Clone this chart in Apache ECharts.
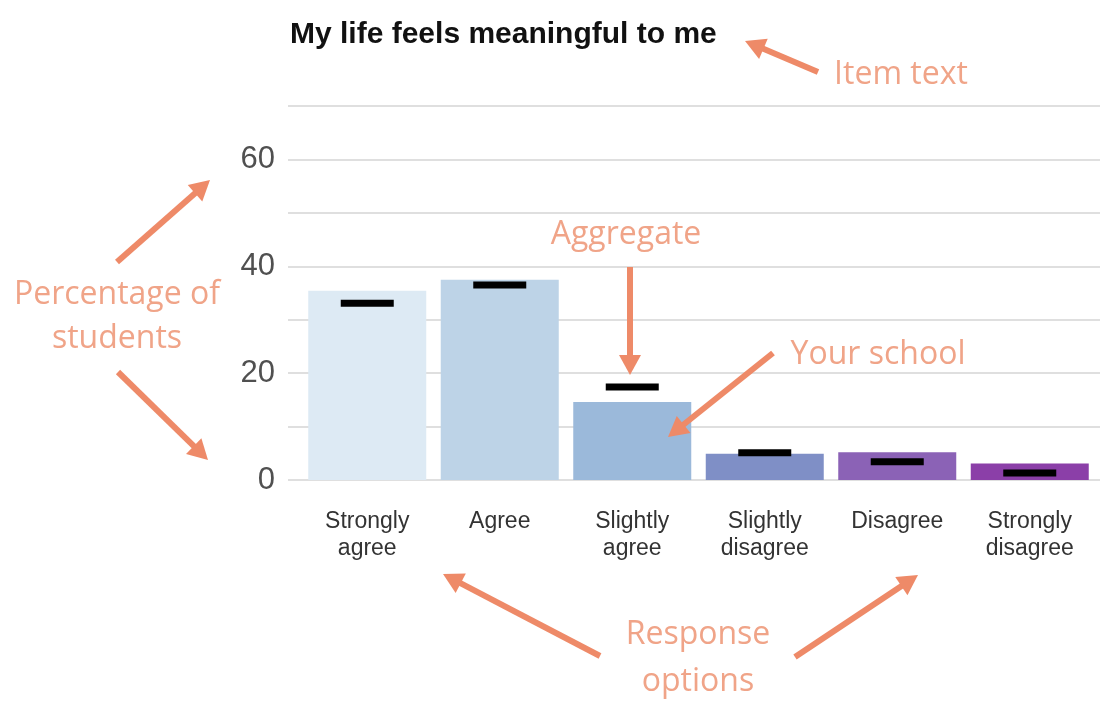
<!DOCTYPE html>
<html>
<head>
<meta charset="utf-8">
<script src="https://cdn.jsdelivr.net/npm/echarts@6/dist/echarts.min.js"></script>
<style>
html,body{margin:0;padding:0;background:#fff;}
#chart{width:1100px;height:701px;}
</style>
</head>
<body>
<div id="chart"></div>
<script>
// ---- data ----
var titleText = 'My life feels meaningful to me';
var categories = ['Strongly\nagree', 'Agree', 'Slightly\nagree', 'Slightly\ndisagree', 'Disagree', 'Strongly\ndisagree'];
var schoolValues = [35.4, 37.5, 14.6, 4.9, 5.2, 3.1];
var aggregateValues = [33.1, 36.5, 17.4, 5.1, 3.4, 1.3];
var barColors = ['#DDEAF4', '#BDD3E7', '#9BB9DA', '#7F8FC6', '#8B62B6', '#8B3FA8'];
var yTickLabels = [0, 20, 40, 60];

// ---- annotation helpers ----
var arrowColor = '#EE8A68';
var noteColor = '#F0A488';
function arrow(x1, y1, x2, y2) {
  var dx = x2 - x1, dy = y2 - y1, len = Math.sqrt(dx * dx + dy * dy);
  var ux = dx / len, uy = dy / len, nx = -uy, ny = ux;
  var L = 20, W = 11;
  var bx = x2 - ux * L, by = y2 - uy * L;
  return [
    { type: 'line', shape: { x1: x1, y1: y1, x2: bx + ux * 2, y2: by + uy * 2 },
      style: { stroke: arrowColor, lineWidth: 6 }, z: 50 },
    { type: 'polygon', shape: { points: [[x2, y2], [bx + nx * W, by + ny * W], [bx - nx * W, by - ny * W]] },
      style: { fill: arrowColor }, z: 50 }
  ];
}
function note(text, x, y) {
  return { type: 'text', x: x, y: y, z: 50,
    style: { text: text, fill: noteColor, font: '32px "Open Sans", sans-serif', align: 'center', verticalAlign: 'middle' } };
}
var graphics = [].concat(
  arrow(818, 72, 745, 41),
  arrow(630, 267, 630, 375),
  arrow(773, 353, 668, 437),
  arrow(117, 262, 210, 180),
  arrow(118, 372, 208, 460),
  arrow(600, 656, 443, 574),
  arrow(795, 657, 918, 575),
  [note('Item text', 901, 75),
   note('Aggregate', 626, 235),
   note('Your school', 878, 355),
   note('Percentage of', 117, 295),
   note('students', 117, 339),
   note('Response', 698, 635),
   note('options', 698, 682)]
);

var chart = echarts.init(document.getElementById('chart'));
chart.setOption({
  animation: false,
  backgroundColor: '#fff',
  title: {
    text: titleText, left: 285, top: 15,
    textStyle: { fontFamily: '"Liberation Sans", Arial, sans-serif', fontSize: 30, fontWeight: 'bold', color: '#111' }
  },
  grid: [
    { left: 288, right: 0, top: 106, bottom: 221 },
    { left: 301, right: 4, top: 106, bottom: 221 }
  ],
  xAxis: [
    { type: 'value', gridIndex: 0, min: 0, max: 1, show: false },
    { type: 'category', gridIndex: 1, data: categories,
      axisLine: { show: false }, axisTick: { show: false },
      axisLabel: { fontFamily: '"Liberation Sans", Arial, sans-serif', fontSize: 23, lineHeight: 27, color: '#333', margin: 28 } }
  ],
  yAxis: [
    { type: 'value', gridIndex: 0, min: 0, max: 70, interval: 10,
      axisLine: { show: false }, axisTick: { show: false },
      splitLine: { lineStyle: { color: '#D4D4D4', width: 1.5 } },
      axisLabel: { margin: 13, fontFamily: '"Liberation Sans", Arial, sans-serif', fontSize: 31, color: '#505050',
        padding: [6, 0, 0, 0],
        formatter: function (v) { return yTickLabels.indexOf(v) >= 0 ? String(v) : ''; } } },
    { type: 'value', gridIndex: 1, min: 0, max: 70, show: false }
  ],
  series: [
    { name: 'Your school', type: 'bar', xAxisIndex: 1, yAxisIndex: 1, barWidth: 118,
      data: schoolValues.map(function (v, i) { return { value: v, itemStyle: { color: barColors[i] } }; }) },
    { name: 'Aggregate', type: 'scatter', xAxisIndex: 1, yAxisIndex: 1, symbol: 'rect', symbolSize: [53, 7],
      itemStyle: { color: '#000', opacity: 1 }, z: 10, data: aggregateValues }
  ],
  graphic: graphics
});
</script>
</body>
</html>
